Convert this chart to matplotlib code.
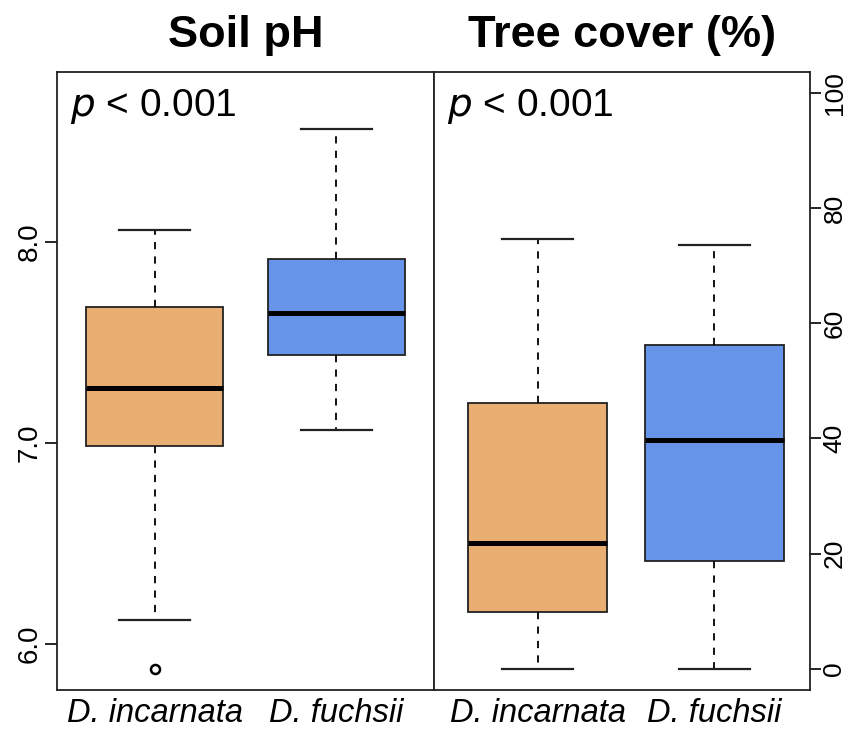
import matplotlib
matplotlib.use("Agg")
import matplotlib.pyplot as plt

plt.rcParams['font.family'] = ['Liberation Sans', 'DejaVu Sans']

species = ["D. incarnata", "D. fuchsii"]
colors = ["#E9AE72", "#6594E9"]

# Soil pH summary statistics per species
ph_whislo = [6.12, 7.065]
ph_q1 = [6.985, 7.438]
ph_med = [7.274, 7.647]
ph_q3 = [7.677, 7.915]
ph_whishi = [8.06, 8.562]
ph_fliers = [[5.876], []]

# Tree cover (%) summary statistics per species
tc_whislo = [0.0, 0.0]
tc_q1 = [9.9, 18.75]
tc_med = [21.9, 39.75]
tc_q3 = [46.2, 56.25]
tc_whishi = [74.65, 73.6]
tc_fliers = [[], []]

ph_ticks = [6.0, 7.0, 8.0]
tc_ticks = [0, 20, 40, 60, 80, 100]


def make_stats(lo, q1, med, q3, hi, fl):
    return [dict(whislo=a, q1=b, med=c, q3=d, whishi=e, fliers=f, label=s)
            for a, b, c, d, e, f, s in zip(lo, q1, med, q3, hi, fl, species)]


def draw(ax, stats, width, capw):
    bp = ax.bxp(stats, positions=[1, 2], widths=width, patch_artist=True,
                showfliers=True, capwidths=capw,
                boxprops=dict(edgecolor="#222222", linewidth=1.3),
                medianprops=dict(color="black", linewidth=3.6, solid_capstyle="butt"),
                whiskerprops=dict(color="black", linewidth=1.3, linestyle=(0, (4, 4))),
                capprops=dict(color="#222222", linewidth=1.6),
                flierprops=dict(marker="o", markersize=6.5, markerfacecolor="none",
                                markeredgecolor="black", markeredgewidth=1.8))
    for patch, c in zip(bp["boxes"], colors):
        patch.set_facecolor(c)
    for sp in ax.spines.values():
        sp.set_linewidth(1.3)
        sp.set_color("#222222")
    ax.tick_params(axis="x", length=0, pad=6, labelsize=23.5)
    for lab in ax.get_xticklabels():
        lab.set_fontstyle("italic")
    ax.text(0.035, 0.975, r"$\it{p}$ < 0.001", transform=ax.transAxes,
            fontsize=28, va="top", ha="left")


fig = plt.figure(figsize=(8.48, 7.31), dpi=100)
ax1 = fig.add_axes([57 / 848, 41 / 731, 377 / 848, 618 / 731])
ax2 = fig.add_axes([434 / 848, 41 / 731, 376 / 848, 618 / 731])

draw(ax1, make_stats(ph_whislo, ph_q1, ph_med, ph_q3, ph_whishi, ph_fliers), 0.758, 0.385)
ax1.set_xlim(0.464, 2.536)
ax1.set_ylim(5.771, 8.846)
ax1.set_yticks(ph_ticks)
ax1.set_yticklabels([f"{v:.1f}" for v in ph_ticks], rotation=90, va="center")
ax1.tick_params(axis="y", length=9, width=1.2, pad=1, labelsize=20)
ax1.set_title("Soil pH", fontsize=32.5, fontweight="bold", pad=18)

draw(ax2, make_stats(tc_whislo, tc_q1, tc_med, tc_q3, tc_whishi, tc_fliers), 0.785, 0.40)
ax2.set_xlim(0.415, 2.54)
ax2.set_ylim(-3.65, 103.6)
ax2.yaxis.tick_right()
ax2.set_yticks(tc_ticks)
ax2.set_yticklabels([str(v) for v in tc_ticks], rotation=90, va="center")
ax2.tick_params(axis="y", length=8, width=1.2, pad=1, labelsize=19)
ax2.set_title("Tree cover (%)", fontsize=32.5, fontweight="bold", pad=18)

fig.savefig("out.png", dpi=100, facecolor="white")
